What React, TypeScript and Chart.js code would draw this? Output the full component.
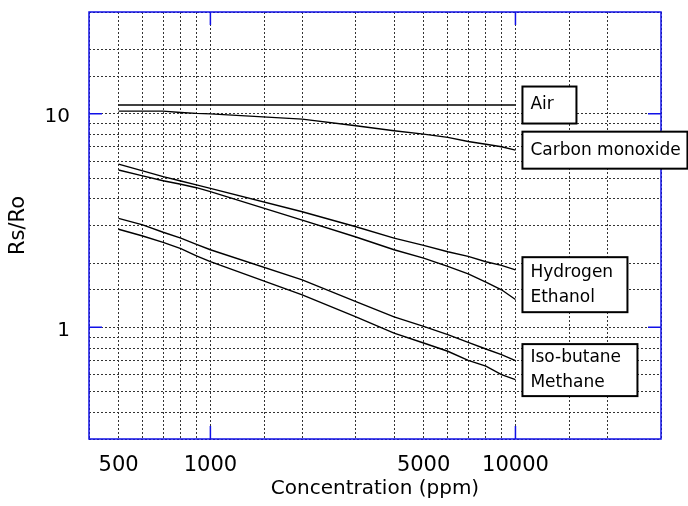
import { useEffect, useRef } from 'react';
import { Chart, registerables } from 'chart.js';

Chart.register(...registerables);

// ---- data ----
const concentrations = [500, 600, 700, 800, 900, 1000, 2000, 3000, 4000, 5000, 6000, 7000, 8000, 9000, 10000];
const air = [11.0, 11.0, 11.0, 11.0, 11.0, 11.0, 11.0, 11.0, 11.0, 11.0, 11.0, 11.0, 11.0, 11.0, 11.0];
const carbonMonoxide = [10.3, 10.3, 10.3, 10.15, 10.05, 10.0, 9.45, 8.8, 8.33, 8.04, 7.76, 7.42, 7.21, 7.01, 6.76];
const hydrogen = [5.82, 5.41, 5.08, 4.85, 4.65, 4.48, 3.48, 2.96, 2.62, 2.42, 2.26, 2.15, 2.03, 1.95, 1.86];
const ethanol = [5.46, 5.12, 4.86, 4.68, 4.51, 4.32, 3.18, 2.65, 2.31, 2.11, 1.93, 1.78, 1.63, 1.5, 1.35];
const isoButane = [3.24, 3.02, 2.79, 2.62, 2.45, 2.31, 1.67, 1.32, 1.12, 1.01, 0.925, 0.851, 0.792, 0.745, 0.699];
const methane = [2.88, 2.68, 2.5, 2.34, 2.16, 2.03, 1.42, 1.12, 0.94, 0.845, 0.773, 0.7, 0.658, 0.601, 0.569];

const seriesNames = ['Air', 'Carbon monoxide', 'Hydrogen', 'Ethanol', 'Iso-butane', 'Methane'];
const seriesValues = [air, carbonMonoxide, hydrogen, ethanol, isoButane, methane];

const xTickLabels = [500, 1000, 5000, 10000];
const yTickLabels = [1, 10];
const xMajorTicks = [1000, 10000];
const yMajorTicks = [1, 10];
const xRange = [400, 30000];
const yRange = [0.3, 30];

const legendGroups = [
  ['Air'],
  ['Carbon monoxide'],
  ['Hydrogen', 'Ethanol'],
  ['Iso-butane', 'Methane'],
];

// ---- styles ----
const FONT = 'DejaVu Sans';
const BLUE = '#1010e8';
const BOX_W = [54, 165, 105, 115];
const BOX_H = [37, 37, 55, 52];

const near = (a: number, b: number) => Math.abs(a - b) < 1e-6 * Math.max(1, Math.abs(b));

const decoPlugin = {
  id: 'deco',
  afterDraw(chart: any) {
    const { ctx, chartArea: a, scales } = chart;
    const xs = scales.x;
    const ys = scales.y;
    ctx.save();
    ctx.strokeStyle = BLUE;
    ctx.lineWidth = 1.5;
    ctx.strokeRect(a.left, a.top, a.right - a.left, a.bottom - a.top);
    ctx.beginPath();
    for (const v of xMajorTicks) {
      const px = xs.getPixelForValue(v);
      ctx.moveTo(px, a.bottom);
      ctx.lineTo(px, a.bottom - 13);
      ctx.moveTo(px, a.top);
      ctx.lineTo(px, a.top + 13);
    }
    for (const v of yMajorTicks) {
      const py = ys.getPixelForValue(v);
      ctx.moveTo(a.left, py);
      ctx.lineTo(a.left + 13, py);
      ctx.moveTo(a.right, py);
      ctx.lineTo(a.right - 13, py);
    }
    ctx.stroke();

    // label boxes
    const lastX = concentrations[concentrations.length - 1];
    const left = xs.getPixelForValue(lastX) + 7;
    ctx.font = `17px "${FONT}"`;
    ctx.textBaseline = 'middle';
    ctx.textAlign = 'left';
    legendGroups.forEach((names, gi) => {
      const ysPix = names.map((n) => {
        const vals = seriesValues[seriesNames.indexOf(n)];
        return ys.getPixelForValue(vals[vals.length - 1]);
      });
      const cy = ysPix.reduce((s, v) => s + v, 0) / ysPix.length;
      const w = BOX_W[gi];
      const h = BOX_H[gi];
      const top = cy - h / 2;
      ctx.fillStyle = '#ffffff';
      ctx.fillRect(left, top, w, h);
      ctx.strokeStyle = '#000000';
      ctx.lineWidth = 2;
      ctx.strokeRect(left, top, w, h);
      ctx.fillStyle = '#000000';
      const lh = 25;
      names.forEach((n, i) => {
        const ty = cy + (i - (names.length - 1) / 2) * lh;
        ctx.fillText(n, left + 8, ty);
      });
    });
    ctx.restore();
  },
};

export default function App() {
  const ref = useRef<HTMLCanvasElement | null>(null);
  useEffect(() => {
    if (!ref.current) return;
    Chart.defaults.font.family = FONT;
    Chart.defaults.color = '#000';
    const chart = new Chart(ref.current, {
      type: 'line',
      data: {
        datasets: seriesNames.map((name, i) => ({
          label: name,
          data: concentrations.map((c, j) => ({ x: c, y: seriesValues[i][j] })),
          borderColor: '#000',
          borderWidth: 1.4,
          pointRadius: 0,
          fill: false,
          tension: 0,
        })),
      },
      options: {
        animation: false,
        responsive: true,
        maintainAspectRatio: false,
        layout: { padding: { top: 12, right: 27, left: 0, bottom: 0 } },
        plugins: { legend: { display: false }, tooltip: { enabled: false } },
        scales: {
          x: {
            type: 'logarithmic',
            min: xRange[0],
            max: xRange[1],
            afterFit: (s: any) => {
              s.height = 67;
              s.paddingLeft = 0;
              s.paddingRight = 0;
            },
            grid: { color: '#333', lineWidth: 1, drawTicks: false },
            border: { display: false, dash: [2, 2] },
            ticks: {
              autoSkip: false,
              maxRotation: 0,
              padding: 14,
              font: { size: 21 },
              color: '#000',
              callback: (v: any) => {
                const n = Number(v);
                return xTickLabels.some((t) => near(n, t)) ? String(Math.round(n)) : '';
              },
            },
            title: { display: true, text: 'Concentration (ppm)', font: { size: 20 }, color: '#000', padding: { top: 0, bottom: 5 } },
          },
          y: {
            type: 'logarithmic',
            min: yRange[0],
            max: yRange[1],
            afterFit: (s: any) => {
              s.width = 89;
              s.paddingTop = 0;
              s.paddingBottom = 0;
            },
            grid: { color: '#333', lineWidth: 1, drawTicks: false },
            border: { display: false, dash: [2, 2] },
            ticks: {
              autoSkip: false,
              padding: 19,
              labelOffset: 3,
              font: { size: 20 },
              color: '#000',
              callback: (v: any) => {
                const n = Number(v);
                return yTickLabels.some((t) => near(n, t)) ? String(Math.round(n)) : '';
              },
            },
            title: { display: true, text: 'Rs/Ro', font: { size: 21 }, color: '#000', padding: { top: 6, bottom: 0 } },
          },
        },
      },
      plugins: [decoPlugin],
    } as any);
    return () => chart.destroy();
  }, []);
  return (
    <div style={{ position: 'absolute', left: 0, top: 0, width: 688, height: 506, background: '#fff' }}>
      <canvas ref={ref} />
    </div>
  );
}
